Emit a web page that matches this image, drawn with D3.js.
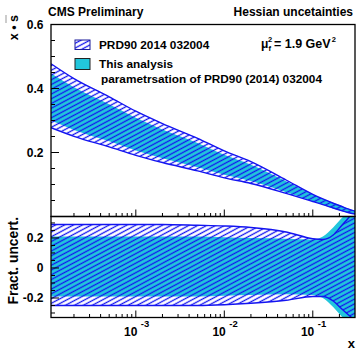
<!DOCTYPE html>
<html><head><meta charset="utf-8">
<script src="https://cdn.jsdelivr.net/npm/d3@7"></script>
<style>
body{margin:0;background:#fff;}
svg text{font-family:"Liberation Sans",Arial,Helvetica,sans-serif;font-weight:bold;fill:#000;}
</style></head>
<body>
<svg id="c" width="356" height="350"></svg>
<script>
// ---- data ----
const xVals   = [1.1e-4, 2e-4, 5e-4, 1e-3, 2e-3, 5e-3, 1e-2, 2e-2, 5e-2, 0.1, 0.13, 0.17, 0.21, 0.25, 0.3];
const central = [0.37, 0.334, 0.29, 0.255, 0.225, 0.19, 0.16, 0.135, 0.092, 0.058, 0.046, 0.034, 0.025, 0.018, 0.012];
const prdUp   = [0.29, 0.29, 0.29, 0.29, 0.29, 0.285, 0.28, 0.27, 0.24, 0.195, 0.19, 0.22, 0.28, 0.33, 0.38];
const prdDn   = [-0.25, -0.25, -0.25, -0.25, -0.25, -0.25, -0.245, -0.235, -0.215, -0.19, -0.19, -0.22, -0.27, -0.31, -0.35];
const anaUp   = [0.21, 0.21, 0.21, 0.21, 0.21, 0.21, 0.205, 0.2, 0.195, 0.19, 0.21, 0.27, 0.33, 0.37, 0.41];
const anaDn   = [-0.19, -0.19, -0.19, -0.19, -0.19, -0.19, -0.185, -0.18, -0.175, -0.18, -0.2, -0.26, -0.32, -0.36, -0.4];
const xMajor  = [1e-3, 1e-2, 1e-1];
const xMajorLabels = ["-3", "-2", "-1"];
const yTopTicks = [0.2, 0.4, 0.6];
const yTopLabels = ["0.2", "0.4", "0.6"];
const yBotTicks = [-0.2, 0, 0.2];
const yBotLabels = ["-0.2", "0", "0.2"];
const legendLabels = ["PRD90 2014 032004", "This analysis", "parametrsation of PRD90 (2014) 032004"];

const svg = d3.select("#c");
const L = 51, R = 355, T1 = 24.5, B1 = 216.5, B2 = 317.5;
const BLUE = "#1414f0", CYAN = "#22c6dc";

const x = d3.scaleLog().domain([1.1e-4, 0.3]).range([L, R]);
const yT = d3.scaleLinear().domain([0, 0.6]).range([B1, T1]);
const yB = d3.scaleLinear().domain([-0.33, 0.343]).range([B2, B1]);

const defs = svg.append("defs");
const pat = defs.append("pattern").attr("id","hatch").attr("patternUnits","userSpaceOnUse")
  .attr("width",10).attr("height",4.2).attr("patternTransform","rotate(-28)");
pat.append("line").attr("x1",0).attr("x2",10).attr("y1",2.1).attr("y2",2.1)
  .attr("stroke",BLUE).attr("stroke-width",1.3);
defs.append("clipPath").attr("id","clipT").append("rect").attr("x",L).attr("y",T1).attr("width",R-L).attr("height",B1-T1);
defs.append("clipPath").attr("id","clipB").append("rect").attr("x",L).attr("y",B1).attr("width",R-L).attr("height",B2-B1);

const idx = d3.range(xVals.length);
function band(ys, up, dn) {
  return d3.area().curve(d3.curveMonotoneX)
    .x(i => x(xVals[i])).y0(i => ys(dn(i))).y1(i => ys(up(i)));
}
function line(ys, f) {
  return d3.line().curve(d3.curveMonotoneX).x(i => x(xVals[i])).y(i => ys(f(i)));
}

// top panel
const gT = svg.append("g").attr("clip-path","url(#clipT)");
gT.append("path").attr("d", band(yT, i=>central[i]*(1+anaUp[i]), i=>central[i]*(1+anaDn[i]))(idx)).attr("fill",CYAN);
gT.append("path").attr("d", band(yT, i=>central[i]*(1+prdUp[i]), i=>central[i]*(1+prdDn[i]))(idx)).attr("fill","url(#hatch)");
gT.append("path").attr("d", line(yT, i=>central[i]*(1+prdUp[i]))(idx)).attr("fill","none").attr("stroke",BLUE).attr("stroke-width",1.4);
gT.append("path").attr("d", line(yT, i=>central[i]*(1+prdDn[i]))(idx)).attr("fill","none").attr("stroke",BLUE).attr("stroke-width",1.4);

// bottom panel
const gB = svg.append("g").attr("clip-path","url(#clipB)");
gB.append("path").attr("d", band(yB, i=>anaUp[i], i=>anaDn[i])(idx)).attr("fill",CYAN);
gB.append("path").attr("d", band(yB, i=>prdUp[i], i=>prdDn[i])(idx)).attr("fill","url(#hatch)");
gB.append("path").attr("d", line(yB, i=>prdUp[i])(idx)).attr("fill","none").attr("stroke",BLUE).attr("stroke-width",1.4);
gB.append("path").attr("d", line(yB, i=>prdDn[i])(idx)).attr("fill","none").attr("stroke",BLUE).attr("stroke-width",1.4);

// frames
const fr = svg.append("g").attr("fill","none").attr("stroke","#000").attr("stroke-width",1.3);
fr.append("rect").attr("x",L).attr("y",T1).attr("width",R-L).attr("height",B1-T1);
fr.append("rect").attr("x",L).attr("y",B1).attr("width",R-L).attr("height",B2-B1);

// ticks
const tk = svg.append("g").attr("stroke","#000").attr("stroke-width",1);
const xMinor = [];
[-4,-3,-2,-1].forEach(e => { for (let k=1;k<=9;k++){ const v=k*Math.pow(10,e); if (v>=1.1e-4 && v<=0.3) xMinor.push(v);} });
xMinor.forEach(v => {
  const major = xMajor.some(m => Math.abs(m - v)/m < 1e-9);
  const len = major ? 7 : 3.5;
  [B1, B2].forEach(yy => tk.append("line").attr("x1",x(v)).attr("x2",x(v)).attr("y1",yy).attr("y2",yy-len));
});
d3.range(0.05, 0.6, 0.05).forEach(v => {
  const major = Math.abs(v/0.2 - Math.round(v/0.2)) < 1e-6;
  tk.append("line").attr("x1",L).attr("x2",L+(major?8:4)).attr("y1",yT(v)).attr("y2",yT(v));
});
d3.range(-0.3, 0.34, 0.05).forEach(v => {
  const major = Math.abs(v/0.2 - Math.round(v/0.2)) < 1e-6;
  tk.append("line").attr("x1",L).attr("x2",L+(major?8:4)).attr("y1",yB(v)).attr("y2",yB(v));
});

// tick labels
yTopTicks.forEach((v,i) => svg.append("text").attr("x",43.5).attr("y",yT(v)+4.3).attr("text-anchor","end").attr("font-size",12).text(yTopLabels[i]));
yBotTicks.forEach((v,i) => svg.append("text").attr("x",43.5).attr("y",yB(v)+4.3).attr("text-anchor","end").attr("font-size",12).text(yBotLabels[i]));
xMajor.forEach((v,i) => {
  svg.append("text").attr("x",x(v)+1.5).attr("y",336).attr("text-anchor","end").attr("font-size",12).text("10");
  svg.append("text").attr("x",x(v)+5).attr("y",327).attr("text-anchor","start").attr("font-size",9.5).text(xMajorLabels[i]);
});

// axis titles
svg.append("text").attr("x",355).attr("y",348).attr("text-anchor","end").attr("font-size",13).text("x");
svg.append("text").attr("transform","translate(17.5,15) rotate(-90)").attr("text-anchor","end").attr("font-size",12.5).text("x \u2022 s");
svg.append("text").attr("transform","translate(18,217) rotate(-90)").attr("text-anchor","end").attr("font-size",13.8).text("Fract. uncert.");
svg.append("line").attr("x1",6).attr("x2",6).attr("y1",15).attr("y2",23).attr("stroke","#999").attr("stroke-width",1);

// header
svg.append("text").attr("x",48).attr("y",16).attr("font-size",12).text("CMS Preliminary");
svg.append("text").attr("x",353).attr("y",16).attr("text-anchor","end").attr("font-size",12).text("Hessian uncetainties");

// legend
svg.append("rect").attr("x",75).attr("y",40).attr("width",15).attr("height",9.5).attr("fill","#fff").attr("stroke","none");
svg.append("rect").attr("x",75).attr("y",40).attr("width",15).attr("height",9.5).attr("fill","url(#hatch)").attr("stroke","#1a1a9a").attr("stroke-width",1);
svg.append("rect").attr("x",75).attr("y",58.5).attr("width",15).attr("height",11).attr("fill",CYAN).attr("stroke","#222").attr("stroke-width",1);
svg.append("text").attr("x",99).attr("y",48.5).attr("font-size",11.8).text(legendLabels[0]);
svg.append("text").attr("x",99).attr("y",68.3).attr("font-size",11.8).text(legendLabels[1]);
svg.append("text").attr("x",101).attr("y",82.5).attr("font-size",11.8).text(legendLabels[2]);

// mu label
svg.append("text").attr("x",261).attr("y",48).attr("font-size",12).text("\u03bc");
svg.append("text").attr("x",268.5).attr("y",50.5).attr("font-size",7.5).text("f");
svg.append("text").attr("x",268).attr("y",42).attr("font-size",7.5).text("2");
const ge = svg.append("text").attr("x",274).attr("y",48).attr("font-size",12.5).text("= 1.9 GeV");
const gw = ge.node().getComputedTextLength();
svg.append("text").attr("x",274+gw+1).attr("y",42).attr("font-size",7.5).text("2");
</script>
</body></html>
